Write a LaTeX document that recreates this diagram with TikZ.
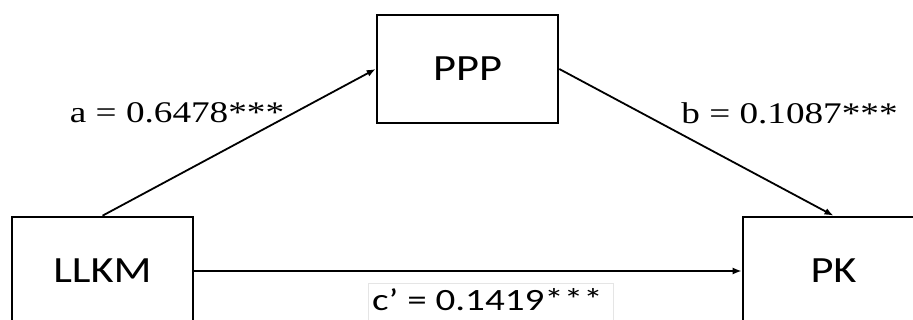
\documentclass[tikz,border=0pt]{standalone}
\usepackage{fontspec}
\setmainfont{Liberation Serif}
\setsansfont{Carlito}
\usepackage{graphicx}
\usetikzlibrary{arrows.meta}

\newcommand{\wide}[2][1.25]{\scalebox{#1}[1]{#2}}

\tikzset{
  var/.style={draw, line width=2.6pt, minimum width=181pt, minimum height=108pt,
    inner sep=0pt, font=\sffamily\fontsize{37}{40}\selectfont},
  coef/.style={inner sep=0pt, font=\fontsize{30}{33}\selectfont},
  effect/.style={-{Latex[length=9pt,width=7pt]}, line width=1.8pt},
}

\begin{document}
\begin{tikzpicture}[x=1pt, y=-1pt]
  \useasboundingbox (0,0) rectangle (913,320);
  \clip (0,0) rectangle (913,320);

  \node[var] (ppp) at (467.5,69) {\wide[1.2]{PPP}};
  \node[var] (llkm) at (102.5,271) {\wide[1.2]{LLKM}};
  \node[var] (pk) at (833.5,271) {\wide[1.2]{PK}};

  \draw[effect] (llkm.north) -- (ppp.west);
  \draw[effect] (ppp.east) -- (pk.north);
  \draw[effect] (llkm.east) -- (pk.west);

  \node[coef] (a) at (177,113) {\wide[1.24]{a = 0.6478***}};
  \node[coef] (b) at (789.5,113) {\wide[1.24]{b = 0.1087***}};

  \draw[gray!20, line width=0.8pt] (368,283) rectangle (613,330);
  \node[inner sep=0pt, anchor=base west, font=\sffamily\fontsize{31}{34}\selectfont]
    (c) at (372,311) {\wide[1.26]{c’ = 0.1419***}};
\end{tikzpicture}
\end{document}
